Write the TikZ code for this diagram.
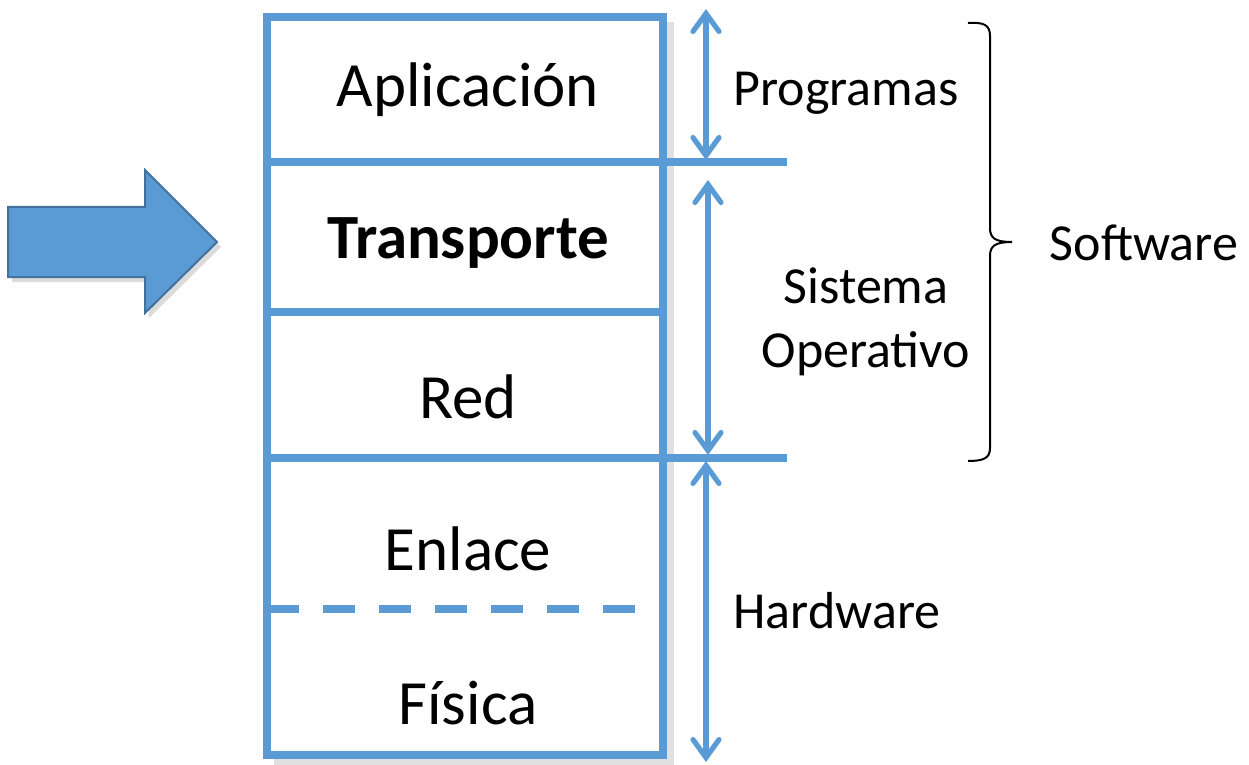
\documentclass[tikz,border=0pt]{standalone}
\usepackage{fontspec}
\setmainfont{Carlito}
\usetikzlibrary{arrows.meta}
\definecolor{lay}{HTML}{5B9BD5}
\definecolor{layd}{HTML}{41719C}
\tikzset{
  layline/.style={draw=lay, line width=3.8pt},
  dimarrow/.style={draw=lay, line width=2.6pt, line cap=round, {Straight Barb[length=9pt,width=13pt,line cap=round]}-{Straight Barb[length=9pt,width=13pt,line cap=round]}},
  laytext/.style={font=\fontsize{31.5}{31.5}\selectfont, inner sep=0pt},
  sidetext/.style={font=\fontsize{26}{32}\selectfont, inner sep=0pt, align=center},
}
\begin{document}
\begin{tikzpicture}[x=0.5pt,y=-0.5pt]
\useasboundingbox (0,0) rectangle (1249,765);
% big arrow shadow
\fill[black!14] (12,212) -- (149,212) -- (149,175) -- (221,247) -- (149,318) -- (149,282) -- (12,282) -- cycle;
\draw[fill=lay, draw=layd, line width=1pt] (8,207) -- (145,207) -- (145,170) -- (217,242) -- (145,313) -- (145,277) -- (8,277) -- cycle;
% box shadow
\draw[black!12, line width=3.8pt] (670,22) -- (670,762) -- (274,762);
% layers box
\coordinate (tl) at (267,17);
\coordinate (br) at (663,755);
\draw[layline] (tl) rectangle (br);
\coordinate (l1a) at (267,162); \coordinate (l1b) at (787,162);
\coordinate (l2a) at (267,312); \coordinate (l2b) at (663,312);
\coordinate (l3a) at (267,458); \coordinate (l3b) at (787,458);
\coordinate (l4a) at (267,609); \coordinate (l4b) at (663,609);
\draw[layline] (l1a) -- (l1b);
\draw[layline] (l2a) -- (l2b);
\draw[layline] (l3a) -- (l3b);
\draw[draw=lay, line width=3.8pt, dash pattern=on 16pt off 12pt] (l4a) -- (l4b);
% layer labels
\node[laytext] (apl) at (468,90) {Aplicación};
\node[laytext, font=\fontsize{31.5}{31.5}\selectfont\bfseries] (tra) at (468,243) {Transporte};
\node[laytext] (red) at (468,397) {Red};
\node[laytext] (enl) at (468,549) {Enlace};
\node[laytext] (fis) at (468,703) {Física};
% dimension arrows
\coordinate (a1t) at (706,9);   \coordinate (a1b) at (706,160);
\coordinate (a2t) at (708,180); \coordinate (a2b) at (708,455);
\coordinate (a3t) at (706,461); \coordinate (a3b) at (706,762);
\draw[dimarrow] (a1t) -- (a1b);
\draw[dimarrow] (a2t) -- (a2b);
\draw[dimarrow] (a3t) -- (a3b);
% side labels
\node[sidetext] (prog) at (846,93) {Programas};
\node[sidetext] (so) at (866,322) {Sistema\\Operativo};
\node[sidetext] (hw) at (837,611) {Hardware};
% brace
\coordinate (bt) at (968,23);
\coordinate (bb) at (968,461);
\coordinate (btip) at (1012,242);
\draw[black, line width=1pt] (bt) .. controls (984,22) and (990,25) .. (990,36) -- (990,228) .. controls (990,238) and (995,242) .. (btip)
  .. controls (995,242) and (990,246) .. (990,256) -- (990,448) .. controls (990,458) and (984,461) .. (bb);
\node[sidetext] (sw) at (1144,243) {Software};
\end{tikzpicture}
\end{document}
